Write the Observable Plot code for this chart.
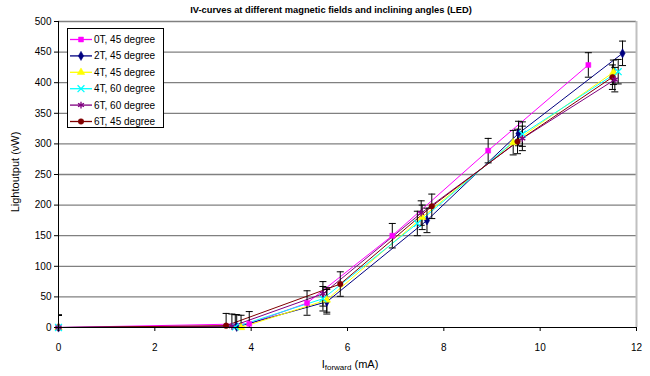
<!DOCTYPE html>
<html><head><meta charset="utf-8">
<script src="https://cdn.jsdelivr.net/npm/d3@7"></script>
<script src="https://cdn.jsdelivr.net/npm/@observablehq/plot@0.6"></script>
<style>body{margin:0;background:#fff;font-family:Arial,"Liberation Sans",sans-serif}</style>
</head><body><div id="chart"></div>
<script>
const chartTitle = "IV-curves at different magnetic fields and inclining angles (LED)";
const yLabel = "Lightoutput (\u03bdW)";
const seriesNames = ["0T, 45 degree","2T, 45 degree","4T, 45 degree","4T, 60 degree","6T, 60 degree","6T, 45 degree"];
const seriesColors = ["#ff00ff","#000080","#ffff00","#00ffff","#800080","#800000"];
const seriesSymbols = ["square","diamond","triangle","times","asterisk","circle"];
const xTicks = [0,2,4,6,8,10,12];
const yTicks = [0,50,100,150,200,250,300,350,400,450,500];

// I_forward (mA) and light output per series
const current_0T45 = [0, 3.96, 5.16, 6.93, 8.92, 11.0];
const light_0T45   = [0, 6, 40, 150, 289, 429];
const current_2T45 = [0, 3.70, 5.57, 7.65, 9.55, 11.71];
const light_2T45   = [0, 1, 42, 175, 317, 448];
const current_4T45 = [0, 3.79, 5.57, 7.55, 9.44, 11.52];
const light_4T45   = [0, 0, 45, 180, 302, 417];
const current_4T60 = [0, 3.67, 5.49, 7.45, 9.63, 11.62];
const light_4T60   = [0, 1, 47, 170, 316, 418];
const current_6T60 = [0, 3.60, 5.49, 7.53, 9.63, 11.55];
const light_6T60   = [0, 2, 55, 187, 309, 405];
const current_6T45 = [0, 3.48, 5.85, 7.75, 9.53, 11.50];
const light_6T45   = [0, 3, 71, 198, 304, 409];
const errorHalf = 20;

const currents = [current_0T45, current_2T45, current_4T45, current_4T60, current_6T60, current_6T45];
const lights = [light_0T45, light_2T45, light_4T45, light_4T60, light_6T60, light_6T45];
const rows = [];
seriesNames.forEach((s, i) => currents[i].forEach((x, j) => rows.push({series: s, x, y: lights[i][j]})));

const capSymbol = {draw(ctx, size) { ctx.moveTo(-3.5, 0); ctx.lineTo(3.5, 0); }};
const font = "Arial, 'Liberation Sans', sans-serif";
const filled = new Set(["square","diamond","triangle","circle"]);

const plot = Plot.plot({
  width: 650, height: 376,
  marginLeft: 58, marginRight: 14, marginTop: 21, marginBottom: 49,
  style: {fontFamily: font, fontSize: "10px", background: "#fff", color: "#000"},
  x: {domain: [0, 12], label: null},
  y: {domain: [0, 500], label: null},
  color: {domain: seriesNames, range: seriesColors},
  symbol: {domain: seriesNames, range: seriesSymbols},
  marks: [
    Plot.gridY(yTicks.slice(1), {stroke: "#808080", strokeOpacity: 1, strokeWidth: 1.3}),
    Plot.ruleX([12], {stroke: "#c0c0c0", strokeWidth: 2}),
    Plot.line(rows, {x: "x", y: "y", z: "series", stroke: "series", strokeWidth: 1}),
    Plot.ruleX(rows, {x: "x", y1: d => d.y - errorHalf, y2: d => d.y + errorHalf, stroke: "#000", strokeWidth: 1, clip: true}),
    Plot.dot(rows, {x: "x", y: d => d.y + errorHalf, symbol: () => capSymbol, stroke: "#000", strokeWidth: 1, r: 3, clip: true}),
    Plot.dot(rows, {x: "x", y: d => d.y - errorHalf, symbol: () => capSymbol, stroke: "#000", strokeWidth: 1, r: 3, clip: true}),
    Plot.dot(rows.filter(d => filled.has(seriesSymbols[seriesNames.indexOf(d.series)])), {x: "x", y: "y", symbol: "series", fill: "series", stroke: "series", strokeWidth: 0.5, r: 2.8}),
    Plot.dot(rows.filter(d => !filled.has(seriesSymbols[seriesNames.indexOf(d.series)])), {x: "x", y: "y", symbol: "series", stroke: "series", strokeWidth: 1.3, r: 3.2}),
    Plot.ruleX([0], {stroke: "#000", strokeWidth: 1}),
    Plot.ruleY([0], {stroke: "#000", strokeWidth: 1}),
    Plot.axisY(yTicks, {tickSize: 4, tickPadding: 3, stroke: "#000", fontSize: 10}),
    Plot.axisX(xTicks, {tickSize: 4, tickPadding: 12, stroke: "#000", fontSize: 10})
  ]
});
document.getElementById("chart").appendChild(plot);

const svg = d3.select(plot);
// title
svg.append("text").attr("x", 331).attr("y", 13).attr("text-anchor", "middle")
  .attr("font-family", font).attr("font-weight", "bold").attr("font-size", 9.3).attr("fill", "#000").text(chartTitle);
// y label
svg.append("text").attr("transform", "translate(19,172) rotate(-90)").attr("text-anchor", "middle")
  .attr("font-family", font).attr("font-size", 11).attr("fill", "#000").text(yLabel);
// x label with subscript
const xl = svg.append("text").attr("x", 350).attr("y", 368).attr("text-anchor", "middle")
  .attr("font-family", font).attr("font-size", 11).attr("fill", "#000");
xl.append("tspan").text("I");
xl.append("tspan").attr("font-size", 8).attr("dy", 2).text("forward");
xl.append("tspan").attr("dy", -2).text(" (mA)");

// legend
const lg = svg.append("g");
lg.append("rect").attr("x", 67.5).attr("y", 28.5).attr("width", 96).attr("height", 99)
  .attr("fill", "#fff").attr("stroke", "#000").attr("stroke-width", 1);
const d3sym = {square: d3.symbolSquare, diamond: d3.symbolDiamond, triangle: d3.symbolTriangle, times: d3.symbolTimes, asterisk: d3.symbolAsterisk, circle: d3.symbolCircle};
seriesNames.forEach((name, i) => {
  const y = 39.5 + i * 16.4;
  const c = seriesColors[i];
  lg.append("line").attr("x1", 70).attr("x2", 92).attr("y1", y).attr("y2", y).attr("stroke", c).attr("stroke-width", 1.3);
  const isFilled = filled.has(seriesSymbols[i]);
  lg.append("path").attr("transform", `translate(81,${y})`)
    .attr("d", d3.symbol(d3sym[seriesSymbols[i]], Math.PI * (isFilled ? 2.8 * 2.8 : 3.2 * 3.2))())
    .attr("fill", isFilled ? c : "none").attr("stroke", c).attr("stroke-width", isFilled ? 0.5 : 1.3);
  lg.append("text").attr("x", 94).attr("y", y + 3.5).attr("text-anchor", "start")
    .attr("font-family", font).attr("font-size", 10).attr("fill", "#000").text(name);
});
</script>
</body></html>
